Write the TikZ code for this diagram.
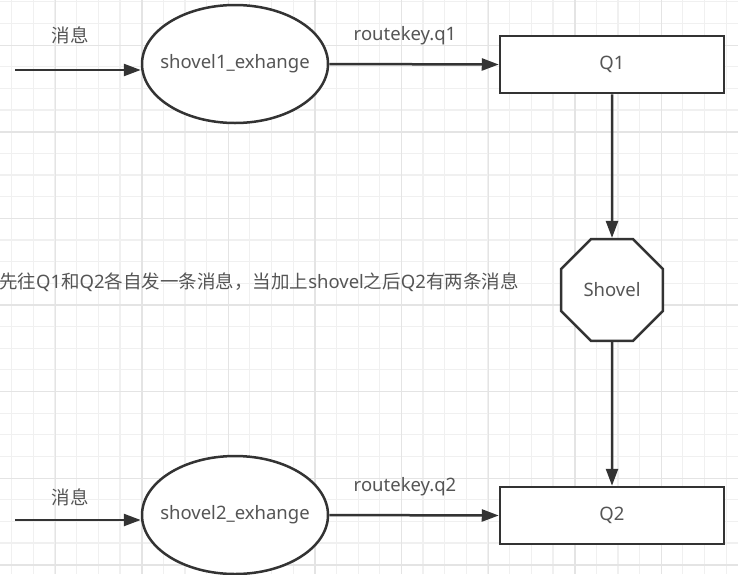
\documentclass[tikz,border=0pt]{standalone}
\usepackage{fontspec}
\setmainfont{Noto Sans}
\newfontfamily\cjk{Noto Sans CJK SC}
\usepackage{xcolor}
\usepackage{tikz}
\usetikzlibrary{arrows.meta, shapes.geometric, positioning}

\definecolor{linegray}{HTML}{333333}
\definecolor{textgray}{HTML}{555555}
\definecolor{gridminor}{HTML}{F0F0F0}
\definecolor{gridmajor}{HTML}{E4E4E4}

\tikzset{
    lbl/.style={text=textgray, inner sep=0pt, font=\fontsize{18.5}{22}\selectfont},
    cjklbl/.style={lbl, font=\cjk\fontsize{18.5}{22}\selectfont},
    exbox/.style={lbl, ellipse, draw=linegray, line width=2.5pt, fill=white,
        minimum width=186pt, minimum height=118pt},
    qbox/.style={lbl, rectangle, draw=linegray, line width=2.5pt, fill=white,
        minimum width=224pt, minimum height=57pt},
    shovelbox/.style={lbl, regular polygon, regular polygon sides=8, draw=linegray,
        line width=2.5pt, fill=white, minimum size=110pt},
    link/.style={->, draw=linegray, line width=2.5pt},
}

\begin{document}
\begin{tikzpicture}[x=1pt, y=-1pt, >={Triangle[length=17pt, width=12pt]}]

    % =================================================================
    % 1. NỀN LƯỚI
    % =================================================================
    \useasboundingbox (0,0) rectangle (738,574);
    \fill[white] (0,0) rectangle (738,574);
    \begin{scope}
        \clip (0,0) rectangle (738,574);
        \foreach \gx in {0,...,33}
            \draw[gridminor, line width=1.2pt] ({11.7+21.65*\gx},0) -- ++(0,574);
        \foreach \gy in {0,...,26}
            \draw[gridminor, line width=1.2pt] (0,{1.8+21.65*\gy}) -- ++(738,0);
        \foreach \gx in {0,...,7}
            \draw[gridmajor, line width=1.4pt] ({55.2+86.6*\gx},0) -- ++(0,574);
        \foreach \gy in {0,...,6}
            \draw[gridmajor, line width=1.4pt] (0,{45.2+86.6*\gy}) -- ++(738,0);
    \end{scope}

    % =================================================================
    % 2. CÁC KHỐI CHÍNH
    % =================================================================
    % chữ đặt trong hộp rộng 0 để kích thước elip do minimum width/height quyết định
    \node[exbox] (ex1) at (235,64) {\makebox[0pt]{shovel1\_exhange}};
    \node[qbox] (q1) at (612,64.5) {Q1};
    \node[shovelbox] (shovel) at (612,290) {Shovel};
    \node[qbox] (q2) at (612,515.5) {Q2};
    \node[exbox] (ex2) at (235,515) {\makebox[0pt]{shovel2\_exhange}};

    % Điểm đầu của các mũi tên vào
    \coordinate (src1) at (15,70);
    \coordinate (src2) at (15,520);

    % =================================================================
    % 3. MŨI TÊN
    % =================================================================
    \draw[link] (src1) -- (src1 -| ex1.west);
    \draw[link] (ex1.east) -- (q1.west);
    \draw[link] (q1.south) -- (shovel.north);
    \draw[link] (shovel.south) -- (q2.north);
    \draw[link] (src2) -- (src2 -| ex2.west);
    \draw[link] (ex2.east) -- (q2.west);

    % =================================================================
    % 4. NHÃN
    % =================================================================
    \node[cjklbl] (msg1) at (70,35) {消息};
    \node[lbl] (rk1) at (405,36) {routekey.q1};
    \node[cjklbl] (msg2) at (70,497) {消息};
    \node[lbl] (rk2) at (405,487) {routekey.q2};
    \node[lbl, anchor=west] (note) at (-1,282)
        {{\cjk 先往}Q1{\cjk 和}Q2{\cjk 各自发一条消息，当加上}shovel{\cjk 之后}Q2{\cjk 有两条消息}};

\end{tikzpicture}
\end{document}
